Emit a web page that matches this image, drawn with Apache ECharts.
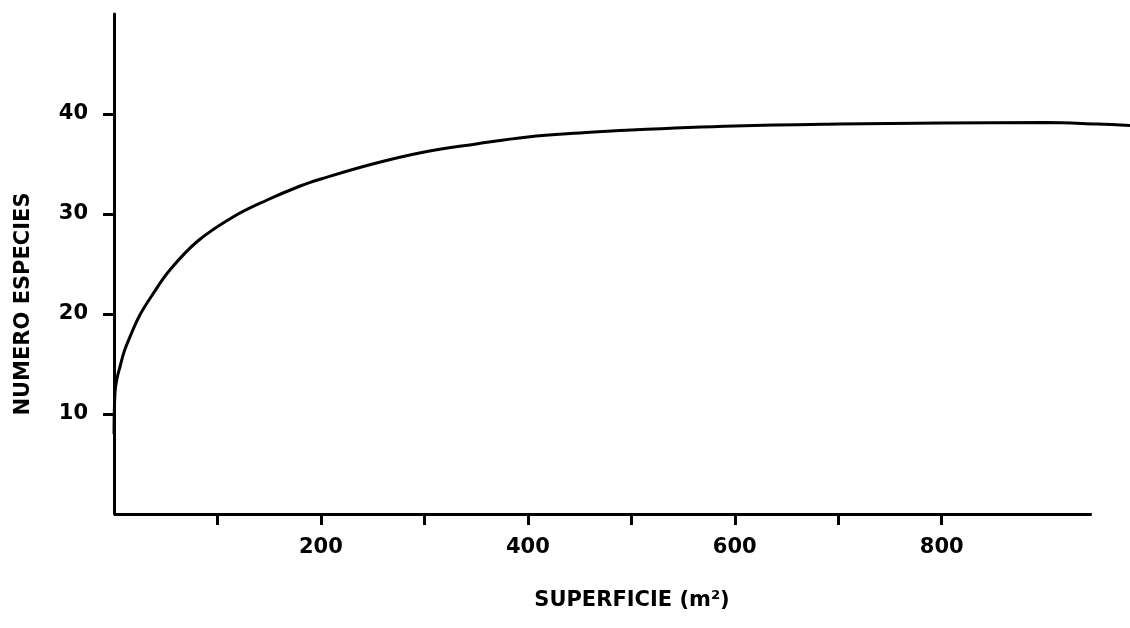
<!DOCTYPE html>
<html>
<head>
<meta charset="utf-8">
<script src="https://cdn.jsdelivr.net/npm/echarts@6/dist/echarts.min.js"></script>
<style>
html,body{margin:0;padding:0;background:#fff;}
#c{width:1130px;height:628px;}
</style>
</head>
<body>
<div id="c"></div>
<script>
// Data
var superficie = [0, 1, 3, 6, 10, 17, 25, 37, 54, 81, 115, 148, 180, 200, 250, 300, 350, 400, 450, 500, 600, 700, 800, 900, 950, 982];
var especies   = [8, 12.2, 13.6, 14.8, 16.3, 18.1, 19.9, 21.9, 24.4, 27.3, 29.7, 31.4, 32.8, 33.5, 35.0, 36.2, 37.0, 37.7, 38.1, 38.4, 38.8, 39.0, 39.1, 39.15, 39.0, 38.85];
var xTicks = [100, 200, 300, 400, 500, 600, 700, 800];
var xLabels = [200, 400, 600, 800];
var yTicks = [10, 20, 30, 40];
var xAxisEnd = 945;
var xName = 'SUPERFICIE (m²)';
var yName = 'NUMERO ESPECIES';

var points = superficie.map(function (x, i) { return [x, especies[i]]; });
var font = 'DejaVu Sans';

var chart = echarts.init(document.getElementById('c'), null, {renderer: 'canvas'});
chart.setOption({
  backgroundColor: '#ffffff',
  animation: false,
  grid: {left: 114, right: 0, top: 14, bottom: 114, containLabel: false},
  xAxis: {
    type: 'value', min: 0, max: 982,
    axisLine: {show: false},
    axisTick: {show: true, inside: false, length: 11, customValues: xTicks, lineStyle: {color: '#000', width: 3}},
    axisLabel: {show: true, customValues: xLabels, margin: 23, color: '#000',
      fontFamily: font, fontWeight: 'bold', fontSize: 21},
    splitLine: {show: false}
  },
  yAxis: {
    type: 'value', min: 0, max: 50,
    axisLine: {show: true, onZero: false, lineStyle: {color: '#000', width: 3}},
    axisTick: {show: true, inside: false, length: 11, customValues: yTicks, lineStyle: {color: '#000', width: 3}},
    axisLabel: {show: true, customValues: yTicks, margin: 26, color: '#000',
      fontFamily: font, fontWeight: 'bold', fontSize: 21},
    splitLine: {show: false}
  },
  graphic: [
    {type: 'text', x: 632, y: 601, style: {text: xName, fill: '#000', font: 'bold 21px "DejaVu Sans"', align: 'center', verticalAlign: 'middle'}},
    {type: 'text', x: 24, y: 304, rotation: Math.PI / 2, style: {text: yName, fill: '#000', font: 'bold 21px "DejaVu Sans"', align: 'center', verticalAlign: 'middle'}}
  ],
  series: [{
    type: 'line',
    data: points,
    smooth: 0.4,
    clip: false,
    showSymbol: false,
    symbol: 'none',
    lineStyle: {color: '#000', width: 3},
    markLine: {
      silent: true,
      symbol: ['none', 'none'],
      label: {show: false},
      lineStyle: {color: '#000', width: 3, type: 'solid'},
      data: [[{coord: [0, 0]}, {coord: [xAxisEnd, 0]}]]
    }
  }]
});
</script>
</body>
</html>
